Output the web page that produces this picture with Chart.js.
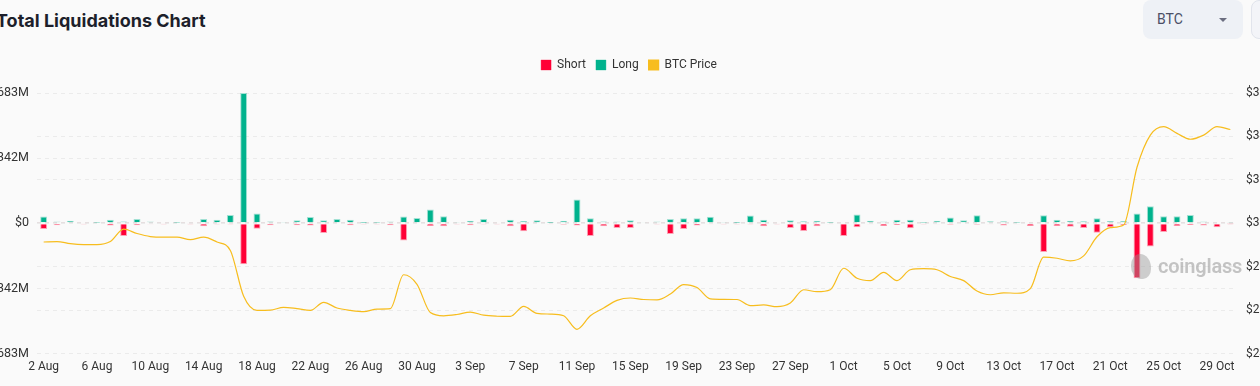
<!DOCTYPE html>
<html>
<head>
<meta charset="utf-8">
<script src="https://cdn.jsdelivr.net/npm/chart.js@4.4.0/dist/chart.umd.min.js"></script>
<style>
  html, body { margin: 0; padding: 0; width: 1260px; height: 386px; overflow: hidden; background: #fafafa; font-family: Roboto, "Noto Sans", sans-serif; }
  .title { position: absolute; left: -4px; top: 10px; font: 700 18px Inter, Roboto, sans-serif; color: #1d1f2b; white-space: nowrap; }
  .select { position: absolute; left: 1143px; top: 0; width: 100px; height: 39px; background: #eef1f6; border-radius: 8px; }
  .select span { position: absolute; left: 14px; top: 11px; font: 14px Roboto, sans-serif; color: #4b4f66; }
  .caret { position: absolute; left: 76px; top: 18px; width: 0; height: 0; border-left: 4px solid transparent; border-right: 4px solid transparent; border-top: 4px solid #6b6e80; }
  .select2 { position: absolute; left: 1251px; top: 0; width: 40px; height: 37px; background: #f3f4f8; border: 1px solid #e1e4ec; border-radius: 8px; }
  .wrap { position: absolute; left: -22px; top: 49px; }
  .mark { position: absolute; left: 1131px; top: 254px; width: 20px; height: 25px; background: rgba(150,150,150,0.45); border-radius: 45% 55% 40% 50%; }
  .markText { position: absolute; left: 1158px; top: 254px; font: 600 20px Roboto, sans-serif; color: rgba(150,150,150,0.55); letter-spacing: -0.2px; }
</style>
</head>
<body>
<div class="title">Total Liquidations Chart</div>
<div class="select"><span>BTC</span><div class="caret"></div></div>
<div class="select2"></div>
<div class="wrap"><canvas id="chart" width="1302" height="331"></canvas></div>
<div class="mark"></div>
<div class="markText">coinglass</div>
<script>
const days = [
  "2 Aug", "3 Aug", "4 Aug", "5 Aug", "6 Aug", "7 Aug", "8 Aug", "9 Aug", "10 Aug", "11 Aug",
  "12 Aug", "13 Aug", "14 Aug", "15 Aug", "16 Aug", "17 Aug", "18 Aug", "19 Aug", "20 Aug", "21 Aug",
  "22 Aug", "23 Aug", "24 Aug", "25 Aug", "26 Aug", "27 Aug", "28 Aug", "29 Aug", "30 Aug", "31 Aug",
  "1 Sep", "2 Sep", "3 Sep", "4 Sep", "5 Sep", "6 Sep", "7 Sep", "8 Sep", "9 Sep", "10 Sep",
  "11 Sep", "12 Sep", "13 Sep", "14 Sep", "15 Sep", "16 Sep", "17 Sep", "18 Sep", "19 Sep", "20 Sep",
  "21 Sep", "22 Sep", "23 Sep", "24 Sep", "25 Sep", "26 Sep", "27 Sep", "28 Sep", "29 Sep", "30 Sep",
  "1 Oct", "2 Oct", "3 Oct", "4 Oct", "5 Oct", "6 Oct", "7 Oct", "8 Oct", "9 Oct", "10 Oct",
  "11 Oct", "12 Oct", "13 Oct", "14 Oct", "15 Oct", "16 Oct", "17 Oct", "18 Oct", "19 Oct", "20 Oct",
  "21 Oct", "22 Oct", "23 Oct", "24 Oct", "25 Oct", "26 Oct", "27 Oct", "28 Oct", "29 Oct", "30 Oct"
];

// liquidations in millions of USD
const longLiq = [
  35, 9, 14, 5, 2, 19, 10, 23, 9, 5,
  2, 5, 23, 19, 44, 683, 51, 10, 4, 16,
  33, 16, 23, 18, 1, 2, 9, 35, 28, 72,
  37, 4, 14, 23, 5, 18, 12, 16, 1, 14,
  125, 26, 10, 9, 16, 7, 9, 23, 26, 26,
  34, 4, 1, 41, 19, 5, 16, 11, 14, 2,
  5, 46, 14, 9, 18, 19, 2, 14, 30, 16,
  42, 11, 11, 2, 5, 42, 18, 14, 11, 26,
  12, 12, 51, 90, 37, 37, 44, 9, 5, 4
];
const shortLiq = [
  -30, -10, -5, -2, -5, -12, -67, -10, -4, -2,
  -5, -3, -16, -3, -3, -215, -28, -10, -5, -10,
  -12, -51, -5, -10, -3, -3, -10, -90, -5, -14,
  -16, -3, -10, -3, -3, -16, -42, -5, -4, -7,
  -12, -67, -16, -25, -25, -5, -2, -56, -30, -12,
  -4, -2, -3, -2, -16, -2, -25, -41, -16, -4,
  -67, -21, -4, -14, -9, -26, -2, -4, -7, -5,
  -7, -4, -11, -4, -14, -150, -14, -18, -25, -49,
  -21, -9, -288, -122, -46, -14, -9, -11, -21, -1
];
const btcPrice = [
  29140, 29160, 29060, 29020, 29020, 29160, 29730, 29530, 29390, 29360,
  29360, 29250, 29360, 29140, 28750, 26640, 25990, 26000, 26130, 26070,
  25990, 26360, 26100, 25990, 25930, 26050, 26070, 27630, 27190, 25890,
  25740, 25800, 25910, 25770, 25720, 25710, 26170, 25850, 25820, 25740,
  25120, 25740, 26100, 26450, 26560, 26490, 26470, 26740, 27180, 27040,
  26520, 26500, 26490, 26210, 26240, 26160, 26330, 26940, 26850, 26940,
  27930, 27470, 27360, 27740, 27360, 27860, 27910, 27860, 27550, 27360,
  26880, 26710, 26800, 26780, 26990, 28440, 28390, 28270, 28500, 29380,
  29800, 29920, 32580, 34060, 34450, 34140, 33870, 34060, 34450, 34320
];

const RED = "#ff0036";
const TEAL = "#00b28d";
const GOLD = "#f7bd1e";
const tickFont = { family: "Roboto, sans-serif", size: 12 };

// push the plot area down a little below the legend
const legendGap = {
  id: "legendGap",
  beforeInit(chart) {
    if (!chart.legend) return;
    const fit = chart.legend.fit;
    chart.legend.fit = function () {
      fit.call(this);
      this.height += 12;
    };
  }
};

new Chart(document.getElementById("chart"), {
  data: {
    labels: days,
    datasets: [
      {
        type: "bar", label: "Short", data: shortLiq, yAxisID: "y",
        backgroundColor: RED, borderColor: "rgba(255,0,54,0.35)", borderWidth: 1,
        grouped: false, barPercentage: 0.52, categoryPercentage: 1, order: 1
      },
      {
        type: "bar", label: "Long", data: longLiq, yAxisID: "y",
        backgroundColor: TEAL, borderColor: "rgba(0,178,141,0.35)", borderWidth: 1,
        grouped: false, barPercentage: 0.52, categoryPercentage: 1, order: 1
      },
      {
        type: "line", label: "BTC Price", data: btcPrice, yAxisID: "y1",
        borderColor: GOLD, backgroundColor: GOLD, borderWidth: 1.2,
        pointRadius: 0, cubicInterpolationMode: "monotone", order: 0
      }
    ]
  },
  options: {
    responsive: false,
    animation: false,
    devicePixelRatio: 1,
    layout: { padding: 0 },
    plugins: {
      tooltip: { enabled: false },
      legend: {
        position: "top",
        labels: {
          boxWidth: 10, boxHeight: 10, padding: 10,
          color: "#333", font: tickFont,
          sort: (a, b) => a.datasetIndex - b.datasetIndex
        }
      }
    },
    scales: {
      x: {
        offset: true,
        grid: { display: false, drawTicks: false },
        border: { display: false },
        ticks: {
          autoSkip: false, maxRotation: 0, padding: 6,
          color: "#333", font: tickFont,
          callback: (v, i) => (i % 4 === 0 ? days[i] : "")
        }
      },
      y: {
        position: "left",
        min: -683, max: 683,
        afterFit: (s) => { s.width = 59; },
        grid: {
          drawTicks: false,
          color: (c) => (c.tick && c.tick.value === 0 ? "#e6dfe0" : "#ebebeb"),
          lineWidth: (c) => (c.tick && c.tick.value === 0 ? 2 : 1)
        },
        border: { display: false, dash: [4, 4] },
        ticks: {
          stepSize: 341.5, padding: 8,
          color: "#333", font: { family: "Roboto, sans-serif", size: 12.5 },
          callback: (v) => (v === 0 ? "$0" : (v < 0 ? "-" : "") + "$" + Math.round(Math.abs(v)) + "M")
        }
      },
      y1: {
        position: "right",
        min: 24000, max: 36000,
        afterFit: (s) => { s.width = 43; },
        grid: { drawTicks: false, color: "#ebebeb" },
        border: { display: false, dash: [4, 4] },
        ticks: {
          stepSize: 2000, padding: 9,
          color: "#333", font: tickFont,
          callback: (v) => "$" + v.toLocaleString("en-US")
        }
      }
    }
  },
  plugins: [legendGap]
});
</script>
</body>
</html>
